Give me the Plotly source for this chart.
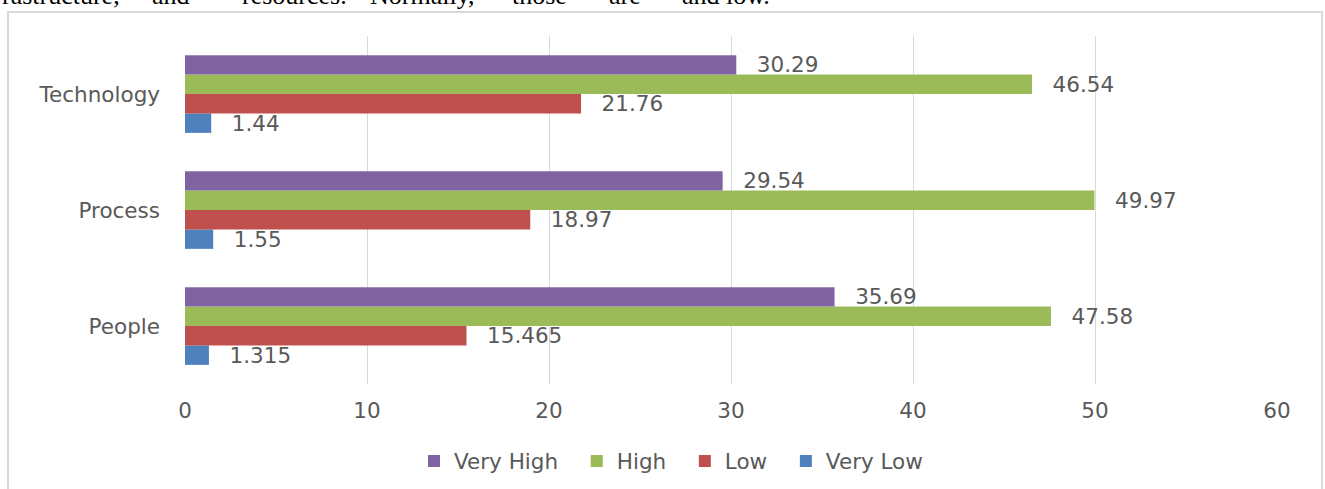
import plotly.graph_objects as go

categories = ["People", "Process", "Technology"]
very_low = [1.315, 1.55, 1.44]
low = [15.465, 18.97, 21.76]
high = [47.58, 49.97, 46.54]
very_high = [35.69, 29.54, 30.29]

series_names = ["Very Low", "Low", "High", "Very High"]
series_values = [very_low, low, high, very_high]
series_colors = ["#4F81BD", "#C0504D", "#9BBB59", "#8064A2"]

x_ticks = [0, 10, 20, 30, 40, 50, 60]

FONT = "DejaVu Sans"
GRAY = "#595959"
FS = 21.5

fig = go.Figure()
for i, (name, vals, col) in enumerate(zip(series_names, series_values, series_colors)):
    legend_name = name if i == 0 else name + "\u00a0\u00a0"
    fig.add_trace(go.Bar(
        y=categories, x=vals, name=legend_name, orientation="h",
        marker=dict(color=col, line=dict(width=0)),
        text=["\u2002\u00a0" + str(v) for v in vals],
        textposition="outside", constraintext="none", cliponaxis=False,
        textfont=dict(family=FONT, size=FS, color=GRAY),
        hovertemplate=name + ": %{x}<extra></extra>",
    ))

# plot area geometry in pixels
L, R, T, B = 185, 48, 36, 105
W, H = 1325 - L - R, 489 - T - B

def px_x(p):
    return (p - L) / W

def px_y(q):
    return (489 - B - q) / H

fig.update_layout(
    width=1325, height=489,
    margin=dict(l=L, r=R, t=T, b=B, autoexpand=False),
    paper_bgcolor="white", plot_bgcolor="white",
    barmode="group", bargap=0.33, bargroupgap=0,
    font=dict(family=FONT, size=FS, color=GRAY),
    xaxis=dict(range=[0, 60], tickvals=x_ticks, showgrid=True,
               gridcolor="#D9D9D9", gridwidth=1, zeroline=False,
               showline=False, ticks="", ticklabelstandoff=11,
               tickfont=dict(family=FONT, size=FS, color=GRAY), fixedrange=True),
    yaxis=dict(categoryorder="array", categoryarray=categories,
               showgrid=False, zeroline=False, showline=False, ticks="",
               ticklabelstandoff=24,
               tickfont=dict(family=FONT, size=FS, color=GRAY), fixedrange=True),
    legend=dict(orientation="h", traceorder="reversed",
                x=px_x(671), xanchor="center", y=px_y(461), yanchor="middle",
                font=dict(family=FONT, size=FS, color=GRAY),
                bgcolor="rgba(0,0,0,0)"),
    showlegend=True,
)

# chart frame border
fig.add_shape(type="rect", xref="paper", yref="paper",
              x0=px_x(8), x1=px_x(1322), y0=px_y(12), y1=px_y(520),
              line=dict(color="#D9D9D9", width=2), fillcolor="rgba(0,0,0,0)",
              layer="below")

# clipped text line from the surrounding document
top_words = ["rastructure,", "and", "resources.", "Normally,", "those", "are", "and low."]
top_word_x = [0, 150, 240, 368, 510, 607, 680]
for w, xp in zip(top_words, top_word_x):
    fig.add_annotation(text=w, xref="paper", yref="paper", x=px_x(xp), y=px_y(-5),
                       xanchor="left", yanchor="middle", showarrow=False,
                       font=dict(family="Liberation Serif", size=26, color="black"))

fig.write_html("out.html")
